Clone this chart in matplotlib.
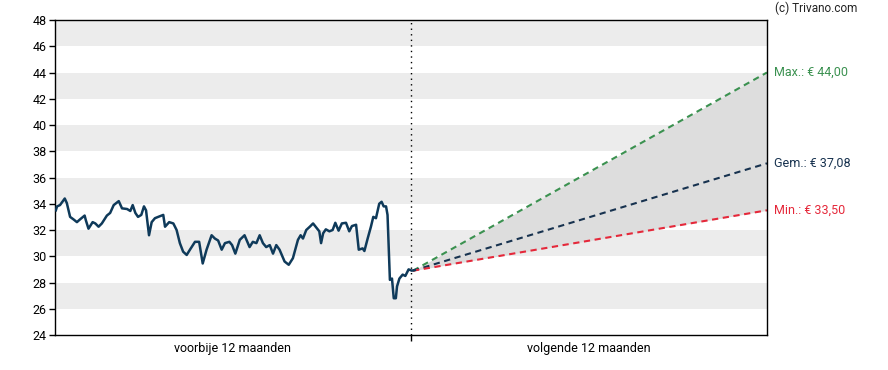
import matplotlib
matplotlib.use("Agg")
import matplotlib.pyplot as plt

plt.rcParams['font.family'] = ['Roboto', 'DejaVu Sans']

# price history: month offset from today, price in euro
months = [-11.97, -11.93, -11.83, -11.67, -11.60, -11.49, -11.37, -11.26, -11.16, -11.00,
          -10.96, -10.87, -10.73, -10.64, -10.53, -10.42, -10.25, -10.14, -10.02, -9.85,
          -9.74, -9.57, -9.46, -9.38, -9.29, -9.20, -9.09, -9.00, -8.93, -8.83,
          -8.74, -8.63, -8.52, -8.35, -8.29, -8.15, -8.01, -7.90, -7.79, -7.68,
          -7.56, -7.45, -7.28, -7.14, -7.02, -6.89, -6.72, -6.61, -6.50, -6.38,
          -6.27, -6.12, -6.03, -5.92, -5.77, -5.61, -5.44, -5.33, -5.21, -5.10,
          -4.99, -4.88, -4.76, -4.65, -4.54, -4.43, -4.26, -4.12, -3.98, -3.81,
          -3.72, -3.64, -3.53, -3.41, -3.30, -3.16, -3.09, -3.03, -2.96, -2.87,
          -2.75, -2.64, -2.55, -2.44, -2.33, -2.19, -2.08, -1.99, -1.85, -1.76,
          -1.63, -1.57, -1.46, -1.35, -1.27, -1.18, -1.07, -0.99, -0.92, -0.84,
          -0.79, -0.71, -0.64, -0.58, -0.51, -0.47, -0.39, -0.28, -0.19, -0.08,
          0.03, 0.13]
prices = [33.5, 33.8, 33.9, 34.4, 34.05, 33.0, 32.8, 32.6, 32.8, 33.1,
          32.75, 32.1, 32.6, 32.5, 32.25, 32.5, 33.1, 33.3, 33.9, 34.2,
          33.65, 33.6, 33.45, 33.9, 33.3, 33.0, 33.15, 33.8, 33.5, 31.6,
          32.6, 32.9, 33.0, 33.15, 32.25, 32.6, 32.5, 32.0, 31.0, 30.35,
          30.1, 30.5, 31.1, 31.1, 29.45, 30.5, 31.6, 31.35, 31.2, 30.5,
          31.0, 31.1, 30.85, 30.2, 31.25, 31.6, 30.7, 31.1, 31.0, 31.6,
          31.0, 30.7, 30.85, 30.2, 30.85, 30.5, 29.6, 29.35, 29.85, 31.25,
          31.6, 31.35, 32.0, 32.25, 32.5, 32.1, 31.9, 31.0, 31.75, 32.05,
          31.9, 32.0, 32.55, 31.95, 32.5, 32.55, 31.9, 32.3, 32.4, 30.5,
          30.6, 30.4, 31.35, 32.25, 33.0, 32.9, 34.0, 34.15, 33.8, 33.8,
          33.15, 28.2, 28.3, 26.8, 26.8, 27.7, 28.3, 28.6, 28.5, 29.0,
          28.9, 28.95]

# analyst targets in 12 months
start_month = 0.07
start_price = 28.9
target_max = 44.00
target_avg = 37.08
target_min = 33.50

labels = ["Max.: € 44,00", "Gem.: € 37,08", "Min.: € 33,50"]
xtick_labels = ["voorbije 12 maanden", "volgende 12 maanden"]

col_line = "#0f3a5a"
col_max = "#3b9150"
col_avg = "#17324f"
col_min = "#e5283a"

fig = plt.figure(figsize=(8.88, 3.70), dpi=100)
ax = fig.add_axes([0.0619, 0.0946, 0.8018, 0.8513])

ax.set_xlim(-12, 12)
ax.set_ylim(24, 48)

for lo in range(26, 48, 4):
    ax.axhspan(lo, lo + 2, color="#ececec", lw=0, zorder=0)

fx = [start_month, 12]
ax.fill_between(fx, [start_price, target_min], [start_price, target_max],
                color="#dddddd", lw=0, zorder=1)
ax.plot(fx, [start_price, target_max], ls=(0, (3, 2.2)), color=col_max, lw=1.5, zorder=2)
ax.plot(fx, [start_price, target_avg], ls=(0, (3, 2.2)), color=col_avg, lw=1.5, zorder=2)
ax.plot(fx, [start_price, target_min], ls=(0, (3, 2.2)), color=col_min, lw=1.5, zorder=2)

ax.axvline(0, color="black", ls=(0, (1, 3)), lw=1, zorder=2)
ax.plot(months, prices, color=col_line, lw=1.8, zorder=3, solid_joinstyle="round")

for txt, val, col in zip(labels, [target_max, target_avg, target_min], [col_max, col_avg, col_min]):
    ax.text(12.25, val, txt, color=col, fontsize=9, va="center", ha="left")

fig.text(775 / 888, 1 - 8 / 370, "(c) Trivano.com", fontsize=8.5, va="center", ha="left", color="#222222")

ax.set_yticks(range(24, 49, 2))
ax.tick_params(axis="y", labelsize=9, length=4, width=1, colors="black", pad=2)
ax.set_xticks([0])
ax.set_xticklabels([""])
ax.tick_params(axis="x", length=4, width=1)
ax.set_xticks([-6, 6], minor=True)
ax.set_xticklabels(xtick_labels, minor=True)
ax.tick_params(axis="x", which="minor", length=0, labelsize=9, pad=5)

for s in ax.spines.values():
    s.set_linewidth(1)
    s.set_color("black")

fig.savefig("out.png", dpi=100)
